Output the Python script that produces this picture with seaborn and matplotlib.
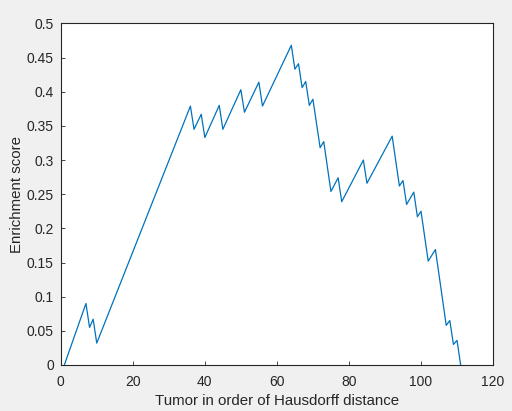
import numpy as np
import pandas as pd
import matplotlib
matplotlib.use("Agg")
import matplotlib.pyplot as plt
import seaborn as sns

# vertices of the running enrichment curve
tumor = [1, 7, 8, 9, 10, 36, 37, 39, 40, 44, 45, 50, 51, 55, 56, 64, 65, 66, 67, 68,
         69, 70, 72, 73, 75, 77, 78, 84, 85, 92, 94, 95, 96, 98, 99, 100, 102, 104,
         107, 108, 109, 110, 111]
score = [0.0, 0.090, 0.055, 0.067, 0.032, 0.379, 0.345, 0.367, 0.333, 0.380, 0.345,
         0.403, 0.370, 0.414, 0.379, 0.468, 0.433, 0.441, 0.406, 0.415, 0.380, 0.389,
         0.318, 0.327, 0.254, 0.274, 0.239, 0.300, 0.266, 0.335, 0.262, 0.270, 0.235,
         0.253, 0.217, 0.225, 0.152, 0.169, 0.058, 0.065, 0.030, 0.036, 0.0]

df = pd.DataFrame({"tumor": tumor, "score": score})

sns.set_style("white")
plt.rcParams["font.family"] = ["Liberation Sans", "DejaVu Sans"]

fig = plt.figure(figsize=(5.12, 4.11), dpi=100, facecolor="#f0f0f0")
ax = fig.add_axes([0.1186, 0.112, 0.8444, 0.831])
sns.lineplot(data=df, x="tumor", y="score", color="#0072BD", linewidth=0.9,
             sort=False, ax=ax)

ax.set_xlim(0, 120)
ax.set_ylim(0, 0.5)
ax.set_xticks(np.arange(0, 121, 20))
ax.set_yticks(np.arange(0, 0.51, 0.05))
ax.set_yticklabels(["0", "0.05", "0.1", "0.15", "0.2", "0.25", "0.3", "0.35",
                    "0.4", "0.45", "0.5"])
ax.set_xlabel("Tumor in order of Hausdorff distance", fontsize=10.8, color="#262626",
              labelpad=4)
ax.set_ylabel("Enrichment score", fontsize=10.8, color="#262626", labelpad=2)
ax.tick_params(axis="x", pad=7)
ax.tick_params(direction="in", length=3, width=0.6, labelsize=10, colors="#262626",
               bottom=True, left=True)
ax.tick_params(axis="y", pad=5)
for s in ax.spines.values():
    s.set_color("#262626")
    s.set_linewidth(0.8)

fig.savefig("out.png", dpi=100, facecolor=fig.get_facecolor())
